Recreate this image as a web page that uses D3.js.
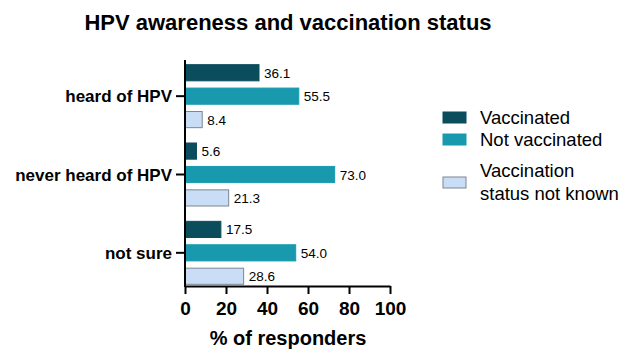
<html>
<head>
<meta charset="UTF-8">
<title>HPV awareness</title>
<script src="https://d3js.org/d3.v7.min.js"></script>
<style>
  body { margin: 0; background: #fff; }
  svg text { font-family: "Liberation Sans", Arial, sans-serif; }
</style>
</head>
<body>
<div id="chart"></div>
<script>
// data
var categories = ["heard of HPV", "never heard of HPV", "not sure"];
var series = ["Vaccinated", "Not vaccinated", "Vaccination status not known"];
var vaccinated = [36.1, 5.6, 17.5];
var notVaccinated = [55.5, 73.0, 54.0];
var notKnown = [8.4, 21.3, 28.6];
var xTicks = [0, 20, 40, 60, 80, 100];

var colors = ["#0b4d5d", "#1899ae", "#c9ddf6"];
var values = [vaccinated, notVaccinated, notKnown];

var width = 640, height = 359;

var svg = d3.select("#chart").append("svg")
  .attr("width", width)
  .attr("height", height);

var x = d3.scaleLinear().domain([0, 100]).range([185, 390]);
var y = d3.scaleBand().domain(categories).range([57, 292]);
var ySub = d3.scaleBand().domain(series).range([-31.5, 31.5]).paddingInner(0.31);

// title
svg.append("text")
  .attr("x", 288).attr("y", 30)
  .attr("text-anchor", "middle")
  .style("font-size", "22px").style("font-weight", "bold")
  .text("HPV awareness and vaccination status");

// bars
categories.forEach(function(c, i) {
  var cy = y(c) + y.bandwidth() / 2;
  series.forEach(function(s, j) {
    var v = values[j][i];
    svg.append("rect")
      .attr("x", x(0))
      .attr("y", cy + ySub(s))
      .attr("width", x(v) - x(0))
      .attr("height", ySub.bandwidth())
      .attr("fill", colors[j])
      .attr("stroke", j == 2 ? "#7d8691" : colors[j])
      .attr("stroke-width", 1);
    svg.append("text")
      .attr("x", x(v) + 5)
      .attr("y", cy + ySub(s) + ySub.bandwidth() / 2 + 5)
      .style("font-size", "13.5px")
      .text(v.toFixed(1));
  });
});

// y axis
svg.append("line")
  .attr("x1", 185).attr("x2", 185)
  .attr("y1", 60).attr("y2", 287)
  .attr("stroke", "#000").attr("stroke-width", 2);

categories.forEach(function(c) {
  var cy = y(c) + y.bandwidth() / 2;
  svg.append("line")
    .attr("x1", 176).attr("x2", 185)
    .attr("y1", cy).attr("y2", cy)
    .attr("stroke", "#000").attr("stroke-width", 2);
  svg.append("text")
    .attr("x", 172).attr("y", cy + 6)
    .attr("text-anchor", "end")
    .style("font-size", "17px").style("font-weight", "bold")
    .text(c);
});

// x axis
var xAxis = svg.append("g")
  .attr("transform", "translate(0,286)")
  .call(d3.axisBottom(x).tickValues(xTicks).tickSize(8).tickSizeOuter(0).tickPadding(8));
xAxis.select(".domain").attr("stroke-width", 2);
xAxis.selectAll(".tick line").attr("stroke-width", 2);
xAxis.selectAll(".tick text")
  .style("font-size", "19px").style("font-weight", "bold")
  .style("font-family", "Liberation Sans, Arial, sans-serif")
  .attr("fill", "#000");

svg.append("text")
  .attr("x", 288).attr("y", 345)
  .attr("text-anchor", "middle")
  .style("font-size", "20px").style("font-weight", "bold")
  .text("% of responders");

// legend
var legendRows = [
  { lines: ["Vaccinated"], y: 112 },
  { lines: ["Not vaccinated"], y: 134 },
  { lines: ["Vaccination", "status not known"], y: 177 }
];
legendRows.forEach(function(r, j) {
  svg.append("rect")
    .attr("x", 443).attr("y", r.y)
    .attr("width", 23).attr("height", 11)
    .attr("fill", colors[j])
    .attr("stroke", j == 2 ? "#7d8691" : colors[j]);
  var t = svg.append("text")
    .attr("x", 480)
    .style("font-size", "18.5px");
  if (r.lines.length == 1) {
    t.attr("y", r.y + 12).text(r.lines[0]);
  } else {
    r.lines.forEach(function(l, k) {
      t.append("tspan").attr("x", 480).attr("y", r.y + 0 + k * 23).text(l);
    });
  }
});
</script>
</body>
</html>
